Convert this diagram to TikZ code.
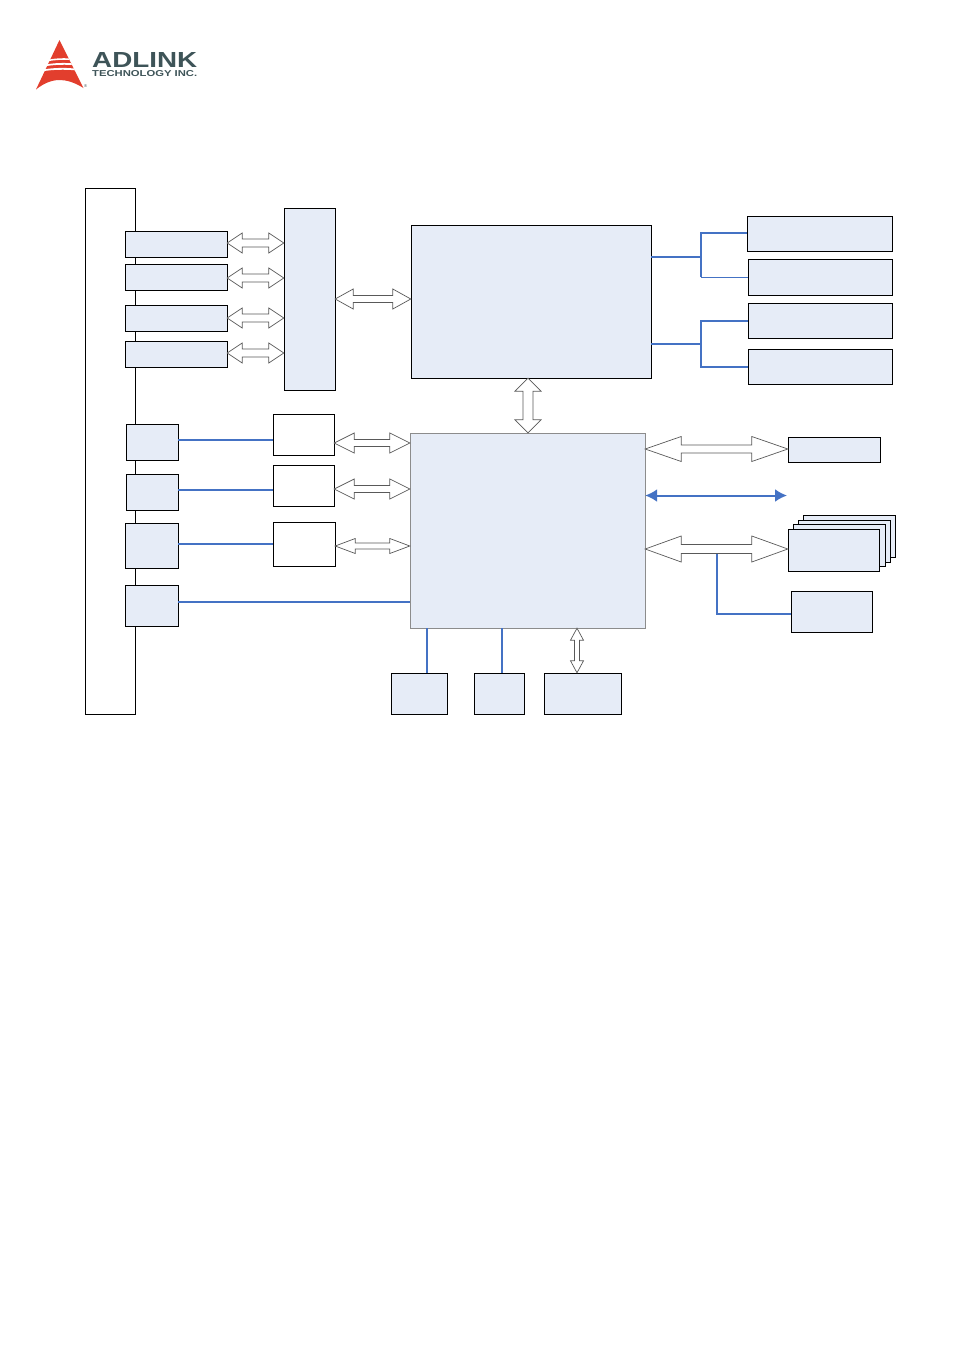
\documentclass[tikz,border=0pt]{standalone}
\usepackage{fontspec}
\setmainfont{Liberation Sans}
\usetikzlibrary{calc,arrows.meta}
\definecolor{boxblue}{RGB}{230,236,247}
\definecolor{linkblue}{RGB}{68,114,196}
\definecolor{logored}{RGB}{226,62,45}
\definecolor{logoslate}{RGB}{62,84,88}
\tikzset{
  blk/.style={draw=black,fill=boxblue,line width=0.9pt},
  plain/.style={draw=black,fill=white,line width=0.9pt},
  link/.style={draw=linkblue,line width=1.8pt},
  twoway/.style={draw=linkblue,line width=2pt,
    {Latex[length=12pt,width=13pt]}-{Latex[length=12pt,width=13pt]}},
  % hollow two-headed arrow: head length, head half width, shaft half width
  bigarrow/.style n args={3}{draw=black!65,fill=white,line width=0.7pt,
    to path={
      (\tikztostart)
      -- ($(\tikztostart)!#1!(\tikztotarget)!#2!90:(\tikztotarget)$)
      -- ($(\tikztostart)!#1!(\tikztotarget)!#3!90:(\tikztotarget)$)
      -- ($(\tikztotarget)!#1!(\tikztostart)!#3!-90:(\tikztostart)$)
      -- ($(\tikztotarget)!#1!(\tikztostart)!#2!-90:(\tikztostart)$)
      -- (\tikztotarget)
      -- ($(\tikztotarget)!#1!(\tikztostart)!#2!90:(\tikztostart)$)
      -- ($(\tikztotarget)!#1!(\tikztostart)!#3!90:(\tikztostart)$)
      -- ($(\tikztostart)!#1!(\tikztotarget)!#3!-90:(\tikztotarget)$)
      -- ($(\tikztostart)!#1!(\tikztotarget)!#2!-90:(\tikztotarget)$)
      -- cycle
    }}
}
% box given by its corners
\newcommand{\blockbox}[6][blk]{\path[#1] (#3,#4) rectangle (#5,#6);
  \node[inner sep=0pt,minimum width=#5pt-#3pt,minimum height=#6pt-#4pt] (#2) at ({(#3+#5)/2},{(#4+#6)/2}) {};}
\begin{document}
\begin{tikzpicture}[x=1pt,y=-1pt]
  \useasboundingbox (0,0) rectangle (954,1350);

  % logo
  \fill[logored] (59.5,40) -- (83.5,88) .. controls (74,82) and (66,80) .. (59.5,80)
    .. controls (52,80) and (44,83) .. (36,89.5) -- cycle;
  \fill[white] (49,59.5) .. controls (54,58.5) and (62,58) .. (68.5,58.3) -- (69.5,60)
    .. controls (62,59.6) and (54,60) .. (48,61.2) -- cycle;
  \fill[white] (46,64.5) .. controls (53,63) and (63,62.7) .. (71,63.2) -- (72,65)
    .. controls (63,64.4) and (53,64.8) .. (45,66.3) -- cycle;
  \fill[white] (43.5,69.5) .. controls (52,67.8) and (65,67.5) .. (74,68.5) -- (75,70.3)
    .. controls (65,69.3) and (52,69.6) .. (42.5,71.3) -- cycle;
  \node[inner sep=0pt,anchor=north west,text=logoslate] (brand) at (92,52)
    {\resizebox{105pt}{15pt}{\bfseries ADLINK}};
  \node[inner sep=0pt,anchor=north west,text=logoslate] (brandsub) at (92,70)
    {\resizebox{105pt}{6pt}{\bfseries TECHNOLOGY INC.}};
  \node[inner sep=0pt,text=logoslate] (brandreg) at (85.5,86.5) {\resizebox{3pt}{!}{®}};

  % backplane edge and riser bus
  \blockbox[plain]{edge}{85}{188}{135}{714}
  \blockbox{riser}{284}{208}{335}{390}

  % riser slots
  \blockbox{slota}{125}{231}{227}{257}
  \blockbox{slotb}{125}{264}{227}{290}
  \blockbox{slotc}{125}{305}{227}{331}
  \blockbox{slotd}{125}{341}{227}{367}

  % main chips
  \blockbox{north}{411}{225}{651}{378}
  \blockbox[blk,draw=black!45]{south}{410}{433}{645}{628}

  % memory
  \blockbox{mema}{747}{216}{892}{251}
  \blockbox{memb}{748}{259}{892}{295}
  \blockbox{memc}{748}{303}{892}{338}
  \blockbox{memd}{748}{349}{892}{384}

  % front ports and their controllers
  \blockbox{porta}{126}{424}{178}{460}
  \blockbox{portb}{126}{474}{178}{510}
  \blockbox{portc}{125}{523}{178}{568}
  \blockbox{portd}{125}{585}{178}{626}
  \blockbox[plain]{ctrla}{273}{414}{334}{455}
  \blockbox[plain]{ctrlb}{273}{465}{334}{506}
  \blockbox[plain]{ctrlc}{273}{522}{335}{566}

  % right side
  \blockbox{disk}{788}{437}{880}{462}
  \blockbox{stackd}{803}{515}{895}{557}
  \blockbox{stackc}{798}{520}{890}{562}
  \blockbox{stackb}{793}{524}{885}{566}
  \blockbox{stacka}{788}{529}{879}{571}
  \blockbox{flash}{791}{591}{872}{632}

  % bottom row
  \blockbox{lowa}{391}{673}{447}{714}
  \blockbox{lowb}{474}{673}{524}{714}
  \blockbox{lowc}{544}{673}{621}{714}

  % hollow arrows
  \path[bigarrow={15pt}{10pt}{4pt}] (slota.east |- 0,243) to (riser.west |- 0,243);
  \path[bigarrow={15pt}{10pt}{4pt}] (slotb.east |- 0,278) to (riser.west |- 0,278);
  \path[bigarrow={15pt}{10pt}{4pt}] (slotc.east |- 0,318) to (riser.west |- 0,318);
  \path[bigarrow={15pt}{10pt}{4pt}] (slotd.east |- 0,353) to (riser.west |- 0,353);
  \path[bigarrow={18pt}{10pt}{3.5pt}] (riser.east |- 0,299) to (north.west |- 0,299);
  \path[bigarrow={13pt}{13pt}{5pt}] (north.south -| 528,0) to (south.north -| 528,0);
  \path[bigarrow={20pt}{10pt}{3.5pt}] (ctrla.east |- 0,443) to (south.west |- 0,443);
  \path[bigarrow={20pt}{10pt}{3.5pt}] (ctrlb.east |- 0,489) to (south.west |- 0,489);
  \path[bigarrow={20pt}{7.5pt}{3pt}] (ctrlc.east |- 0,546) to (south.west |- 0,546);
  \path[bigarrow={36pt}{12.5pt}{4pt}] (south.east |- 0,449) to (disk.west |- 0,449);
  \path[bigarrow={36pt}{13pt}{4.5pt}] (south.east |- 0,549) to (stacka.west |- 0,549);
  \path[bigarrow={12pt}{6.5pt}{2.5pt}] (south.south -| 577,0) to (lowc.north -| 577,0);

  % junctions and free ends
  \coordinate (forka) at (701,257);
  \coordinate (forkb) at (701,344);
  \coordinate (forkatail) at (701,277);
  \coordinate (forkbtail) at (701,367);
  \coordinate (flashtap) at (717,554);
  \coordinate (phyend) at (787,495.5);

  % solid links
  \draw[link] (north.east |- forka) -- (forka);
  \draw[link] (mema.west |- 0,233) -| (forkatail);
  \draw[draw=linkblue,line width=1pt] (forkatail) -- (memb.west |- forkatail);
  \draw[link] (north.east |- forkb) -- (forkb);
  \draw[link] (memc.west |- 0,321) -| (forkbtail) -- (memd.west |- forkbtail);
  \draw[link] (porta.east |- 0,440) -- (ctrla.west |- 0,440);
  \draw[link] (portb.east |- 0,490) -- (ctrlb.west |- 0,490);
  \draw[link] (portc.east |- 0,544) -- (ctrlc.west |- 0,544);
  \draw[link] (portd.east |- 0,602) -- (south.west |- 0,602);
  \draw[link] (south.south -| 427,0) -- (lowa.north -| 427,0);
  \draw[link] (south.south -| 502,0) -- (lowb.north -| 502,0);
  \draw[link] (flashtap) |- (flash.west |- 0,614);
  \draw[twoway] (south.east |- phyend) -- (phyend);
\end{tikzpicture}
\end{document}
